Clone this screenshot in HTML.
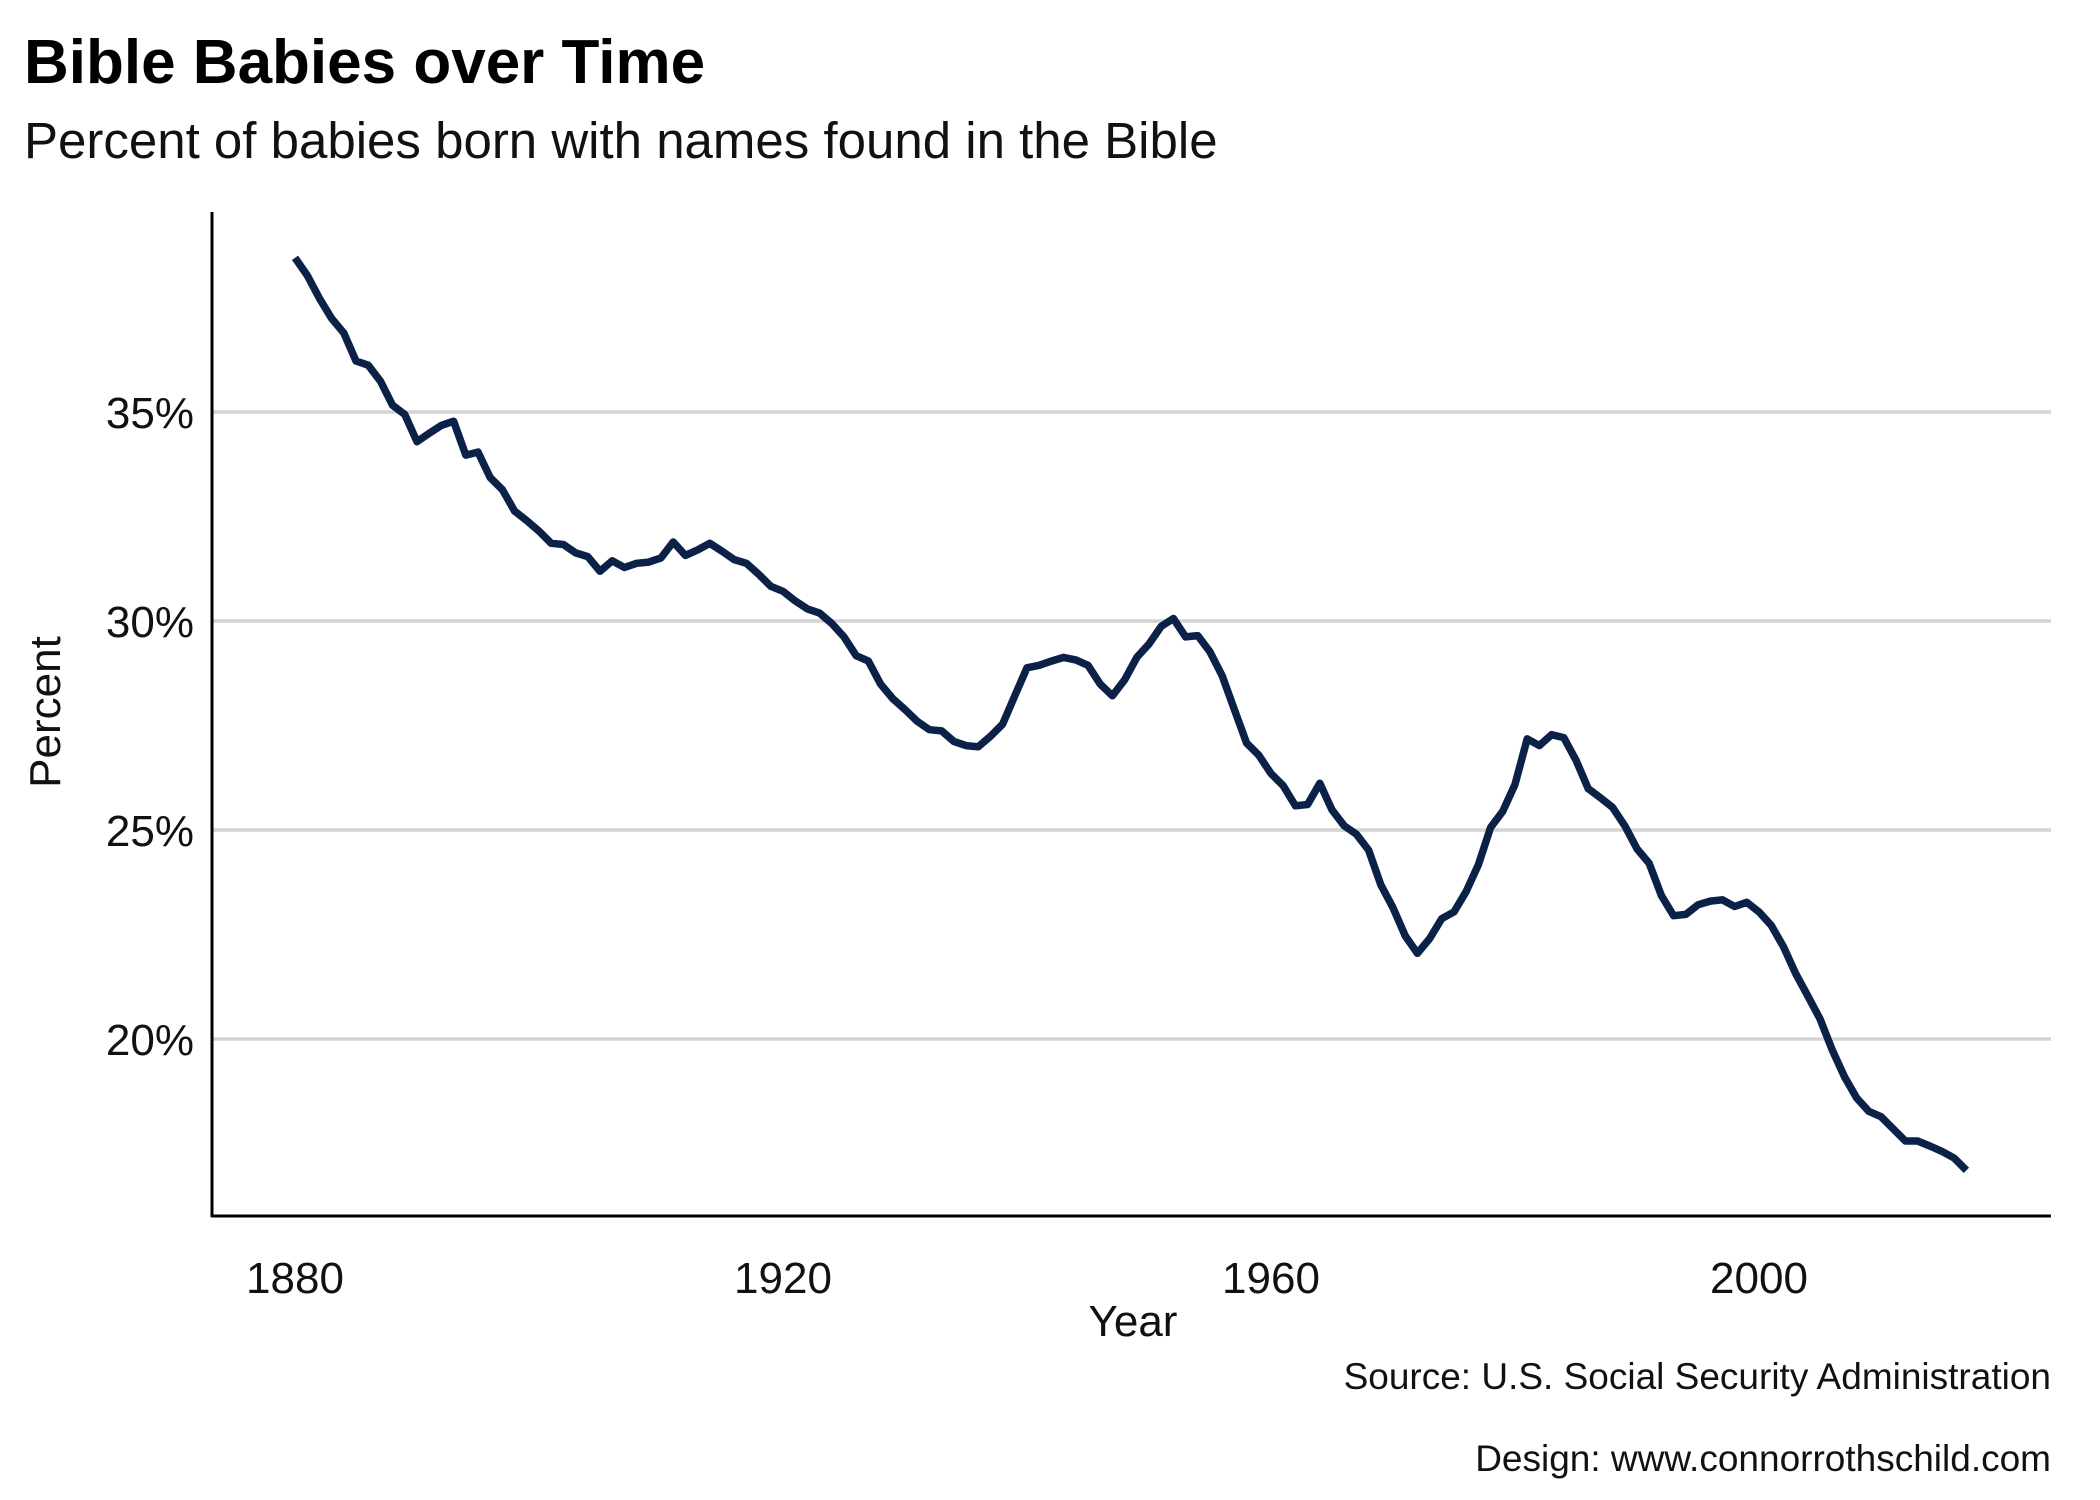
<!DOCTYPE html>
<html><head><meta charset="utf-8"><style>
html,body{margin:0;padding:0;background:#fff;}
svg{display:block;font-family:"Liberation Sans",sans-serif;}
</style></head><body>
<svg id="chart" width="2100" height="1500" viewBox="0 0 2100 1500">
<text x="24" y="83" font-size="62" font-weight="bold" fill="#000">Bible Babies over Time</text>
<text x="24" y="158" font-size="51" fill="#111">Percent of babies born with names found in the Bible</text>
<g id="grid"></g>
<g id="yticks"></g>
<g id="xticks"></g>
<line x1="212" y1="212" x2="212" y2="1217" stroke="#000" stroke-width="3"/>
<line x1="211" y1="1216" x2="2051" y2="1216" stroke="#000" stroke-width="3"/>
<path id="line" fill="none" stroke="#0c2148" stroke-width="7.5" stroke-linejoin="round"/>
<text x="1133" y="1336" font-size="44" text-anchor="middle" fill="#111">Year</text>
<text transform="translate(60,712) rotate(-90)" font-size="44" text-anchor="middle" fill="#111">Percent</text>
<text x="2051" y="1389" font-size="37" text-anchor="end" fill="#111">Source: U.S. Social Security Administration</text>
<text x="2051" y="1471" font-size="37" text-anchor="end" fill="#111">Design: www.connorrothschild.com</text>
</svg>
<script>
const startYear = 1880;
const percentValues = [38.69,38.27,37.72,37.24,36.89,36.22,36.12,35.74,35.16,34.94,34.29,34.49,34.68,34.78,33.97,34.04,33.43,33.14,32.63,32.4,
32.15,31.86,31.83,31.63,31.54,31.19,31.44,31.28,31.38,31.41,31.51,31.89,31.57,31.7,31.86,31.67,31.47,31.38,31.12,30.83,
30.71,30.48,30.29,30.19,29.94,29.62,29.17,29.04,28.49,28.14,27.88,27.6,27.4,27.37,27.12,27.02,26.99,27.24,27.53,28.21,
28.88,28.94,29.04,29.13,29.07,28.94,28.49,28.21,28.59,29.13,29.45,29.87,30.06,29.62,29.65,29.26,28.69,27.88,27.08,26.79,
26.35,26.06,25.58,25.61,26.12,25.48,25.1,24.9,24.52,23.69,23.14,22.47,22.05,22.4,22.88,23.04,23.53,24.17,25.06,25.45,
26.09,27.18,27.02,27.28,27.21,26.67,25.99,25.77,25.54,25.1,24.55,24.2,23.43,22.95,22.98,23.21,23.3,23.33,23.17,23.27,
23.04,22.72,22.21,21.57,21.03,20.48,19.74,19.1,18.59,18.27,18.14,17.85,17.56,17.56,17.44,17.31,17.15,16.86];
const yTicks = [20,25,30,35];
const xTicks = [1880,1920,1960,2000];
const NS="http://www.w3.org/2000/svg";
function xs(yr){return 295+(yr-1880)*(1759-295)/120;}
function ys(p){return 1039-(p-20)*(1039-412)/15;}
const grid=document.getElementById('grid'), yt=document.getElementById('yticks'), xt=document.getElementById('xticks');
yTicks.forEach(v=>{
  const l=document.createElementNS(NS,'line');
  l.setAttribute('x1',213);l.setAttribute('x2',2051);l.setAttribute('y1',ys(v));l.setAttribute('y2',ys(v));
  l.setAttribute('stroke','#d4d4d4');l.setAttribute('stroke-width','3.5');
  
  
  grid.appendChild(l);
  const t=document.createElementNS(NS,'text');
  t.setAttribute('x',194);t.setAttribute('y',ys(v)+16);t.setAttribute('font-size','44');t.setAttribute('text-anchor','end');t.setAttribute('fill','#111');
  t.textContent=v+'%';
  
  
  yt.appendChild(t);
});
xTicks.forEach(v=>{
  const t=document.createElementNS(NS,'text');
  t.setAttribute('x',xs(v));t.setAttribute('y',1293);t.setAttribute('font-size','44');t.setAttribute('text-anchor','middle');t.setAttribute('fill','#111');
  t.textContent=v;
  
  
  xt.appendChild(t);
});
document.getElementById('line').setAttribute('d',percentValues.map((p,i)=>(i?'L':'M')+xs(startYear+i).toFixed(1)+','+ys(p).toFixed(1)).join(''));
</script>
</body></html>
